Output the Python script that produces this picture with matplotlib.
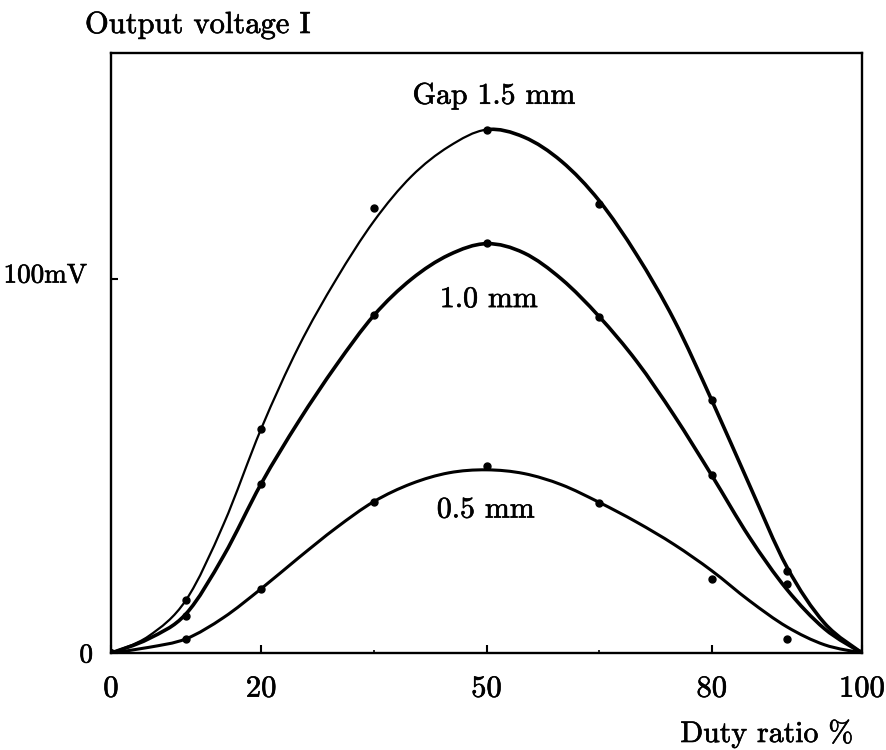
import numpy as np
import matplotlib
matplotlib.use("Agg")
import matplotlib.pyplot as plt
import matplotlib.patheffects as pe
from matplotlib.path import Path
from matplotlib.patches import PathPatch
from matplotlib.transforms import ScaledTranslation

plt.rcParams['font.family'] = ['cmr10', 'DejaVu Serif']
plt.rcParams['axes.formatter.use_mathtext'] = True

# measured points (duty ratio %, mV)
duty_pts = [0, 10, 20, 35, 50, 65, 80, 90, 100]
gap15_pts = [0, 14.2, 60, 119, 140, 120, 67.6, 22, 0]
gap10_pts = [0, 9.9, 45.3, 90.3, 109.8, 90, 47.5, 18.5, 0]
gap05_pts = [0, 3.8, 17.2, 40.5, 50.1, 40.1, 19.8, 3.8, 0]

# hand drawn curves, read every 5 %
duty_curve = [0, 5, 10, 15, 20, 25, 30, 35, 40, 45, 50,
              55, 60, 65, 70, 75, 80, 85, 90, 95, 100]
gap15_curve = [0, 4.5, 14.2, 34.5, 60, 82, 100, 115.5, 127.5, 135.5, 140,
               138, 131.5, 121, 106.5, 89, 67.6, 45, 23, 8, 0]
gap10_curve = [0, 3.8, 10.5, 26, 45.3, 62, 77, 90.3, 100, 106.5, 109.5,
               107, 100, 90, 78, 63.5, 47.5, 31, 17, 6.5, 0]
gap05_curve = [0, 1.5, 3.8, 9.5, 17.2, 25.5, 33.5, 40.5, 45.3, 48.2, 49,
               48, 45, 40.3, 35, 29, 22, 14, 7, 2.2, 0]

xtick_vals = [0, 20, 50, 80, 100]
xtick_labels = ['0', '20', '50', '80', '100']
ytick_vals = [0, 100]
ytick_labels = ['0', '100mV']

ink = [pe.withStroke(linewidth=0.45, foreground='black')]


def bezier_verts(xs, ys):
    # catmull-rom through the read points, as cubic bezier segments
    pts = np.column_stack([xs, ys]).astype(float)
    n = len(pts)
    verts = [pts[0]]
    for i in range(n - 1):
        p0 = pts[max(i - 1, 0)]
        p1 = pts[i]
        p2 = pts[i + 1]
        p3 = pts[min(i + 2, n - 1)]
        verts += [p1 + (p2 - p0) / 6, p2 - (p3 - p1) / 6, p2]
    return np.array(verts)


def curve_patch(verts, lw):
    codes = [Path.MOVETO] + [Path.CURVE4] * (len(verts) - 1)
    return PathPatch(Path(verts, codes), fill=False, ec='black', lw=lw,
                     capstyle='round', joinstyle='round')


fig = plt.figure(figsize=(8.86, 7.5), dpi=100)
ax = fig.add_axes([111 / 886, 97 / 750, 751 / 886, 600 / 750])

# 1.5 mm curve: thin on the rising side, heavier on the falling side
v15 = bezier_verts(duty_curve, gap15_curve)
mid = 3 * duty_curve.index(50)
ax.add_patch(curve_patch(v15[:mid + 1], 1.6))
ax.add_patch(curve_patch(v15[mid:], 2.6))
ax.add_patch(curve_patch(bezier_verts(duty_curve, gap10_curve), 2.6))
ax.add_patch(curve_patch(bezier_verts(duty_curve, gap05_curve), 2.2))

for ys in [gap15_pts, gap10_pts, gap05_pts]:
    ax.plot(duty_pts, ys, 'o', color='black', ms=5, ls='none')

ax.set_xlim(0, 100)
ax.set_ylim(0, 160.5)

ax.set_xticks(xtick_vals)
ax.set_xticklabels(xtick_labels, fontsize=22)
ax.set_xticks([35, 65], minor=True)
ax.set_yticks(ytick_vals)
ax.set_yticklabels(ytick_labels, fontsize=19.5)

ax.tick_params(axis='x', direction='in', length=6, width=1.5, pad=16)
ax.tick_params(axis='y', direction='in', length=5, width=1.5, pad=13)
ax.tick_params(axis='x', which='minor', direction='in', length=2, width=1.2)

# the 100mV label sits a little further out and higher
lab = ax.get_yticklabels()[1]
lab.set_transform(lab.get_transform() + ScaledTranslation(-6 / 100, 6 / 100, fig.dpi_scale_trans))

for lab in ax.get_xticklabels() + ax.get_yticklabels():
    lab.set_path_effects(ink)

for s in ax.spines.values():
    s.set_linewidth(1.7)

ax.text(51, 149, 'Gap 1.5 mm', fontsize=21.5, ha='center', va='center', path_effects=ink)
ax.text(50.3, 94.6, '1.0 mm', fontsize=21.5, ha='center', va='center', path_effects=ink)
ax.text(49.9, 38.3, '0.5 mm', fontsize=21.5, ha='center', va='center', path_effects=ink)

fig.text(85 / 886, 1 - 33 / 750, 'Output voltage I', fontsize=22, ha='left', va='baseline', path_effects=ink)
fig.text(853 / 886, 8 / 750, 'Duty ratio %', fontsize=21.5, ha='right', va='baseline', path_effects=ink)

fig.savefig('out.png', dpi=100)
